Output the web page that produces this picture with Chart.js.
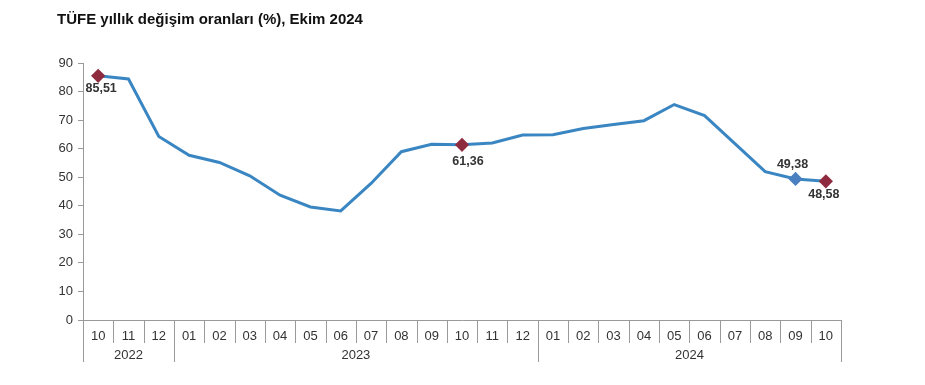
<!DOCTYPE html>
<html>
<head>
<meta charset="utf-8">
<script src="https://cdn.jsdelivr.net/npm/chart.js@4/dist/chart.umd.min.js"></script>
<style>
  html, body { margin: 0; padding: 0; background: #fff; }
  #wrap { position: relative; width: 925px; height: 385px; }
  #title { position: absolute; left: 57px; top: 10px; font: bold 15px "Liberation Sans", Arial, sans-serif; color: #111; }
</style>
</head>
<body>
<div id="wrap">
  <div id="title">TÜFE yıllık değişim oranları (%), Ekim 2024</div>
  <canvas id="c" width="925" height="385"></canvas>
</div>
<script>
// months shown on the x axis, Oct 2022 - Oct 2024
const months = ['10', '11', '12', '01', '02', '03', '04', '05', '06', '07', '08', '09',
                '10', '11', '12', '01', '02', '03', '04', '05', '06', '07', '08', '09', '10'];
const years = [
   { label: '2022', from: 0, to: 2 },
   { label: '2023', from: 3, to: 14 },
   { label: '2024', from: 15, to: 24 }
];
const cpi = [85.51, 84.39, 64.27, 57.68, 55.18, 50.51, 43.68, 39.59, 38.21, 47.83, 58.94, 61.53,
             61.36, 61.98, 64.77, 64.86, 67.07, 68.50, 69.80, 75.45, 71.60, 61.78, 51.97, 49.38, 48.58];
const yTicks = [0, 10, 20, 30, 40, 50, 60, 70, 80, 90];
// labelled points: index, label offset
const marked = [
   { i: 0, dx: 3, dy: 13, color: '#8e2b3f' },
   { i: 12, dx: 6, dy: 17, color: '#8e2b3f' },
   { i: 23, dx: -3, dy: -14, color: '#4a80c0' },
   { i: 24, dx: -2, dy: 13, color: '#8e2b3f' }
];

const font = "'Liberation Sans', Arial, sans-serif";

function fmt(v) {
   return v.toFixed(2).replace('.', ',');
}

const radii = cpi.map(function (v, i) {
   return marked.some(function (m) { return m.i === i; }) ? 5 : 0;
});
const pointColors = cpi.map(function (v, i) {
   const m = marked.find(function (m) { return m.i === i; });
   return m ? m.color : '#3a86c2';
});

const axisExtras = {
   id: 'axisExtras',
   afterDraw: function (chart) {
      const ctx = chart.ctx;
      const x = chart.scales.x;
      const area = chart.chartArea;
      const step = x.getPixelForValue(1) - x.getPixelForValue(0);
      ctx.save();
      ctx.strokeStyle = '#9a9a9a';
      ctx.lineWidth = 1;
      // month separators
      for (let i = 0; i <= months.length; i++) {
         const px = Math.round(x.getPixelForValue(i) - step / 2) + 0.5;
         const isYear = i === 0 || i === months.length || years.some(function (y) { return y.from === i; });
         ctx.beginPath();
         ctx.moveTo(px, area.bottom);
         ctx.lineTo(px, area.bottom + (isYear ? 42 : 23));
         ctx.stroke();
      }
      // year labels
      ctx.fillStyle = '#333';
      ctx.font = '13px ' + font;
      ctx.textAlign = 'center';
      ctx.textBaseline = 'middle';
      years.forEach(function (y) {
         const cx = (x.getPixelForValue(y.from) + x.getPixelForValue(y.to)) / 2;
         ctx.fillText(y.label, cx, area.bottom + 35);
      });
      // data labels
      ctx.font = 'bold 12.5px ' + font;
      const meta = chart.getDatasetMeta(0);
      marked.forEach(function (m) {
         const p = meta.data[m.i];
         ctx.fillText(fmt(cpi[m.i]), p.x + m.dx, p.y + m.dy);
      });
      ctx.restore();
   }
};

new Chart(document.getElementById('c'), {
   type: 'line',
   data: {
      labels: months,
      datasets: [{
         data: cpi,
         borderColor: '#3a86c2',
         borderWidth: 3,
         pointStyle: 'rectRot',
         pointRadius: radii,
         pointBackgroundColor: pointColors,
         pointBorderColor: pointColors,
         tension: 0
      }]
   },
   options: {
      responsive: false,
      animation: false,
      layout: { padding: { left: 50, right: 84, top: 63, bottom: 0 } },
      plugins: { legend: { display: false }, tooltip: { enabled: false } },
      scales: {
         x: {
            offset: true,
            grid: { display: false },
            border: { display: true, color: '#9a9a9a' },
            ticks: { color: '#333', font: { family: font, size: 13 }, padding: 1, maxRotation: 0, autoSkip: false },
            afterFit: function (s) { s.height = 65; }
         },
         y: {
            min: 0,
            max: 90,
            afterBuildTicks: function (s) { s.ticks = yTicks.map(function (v) { return { value: v }; }); },
            grid: { drawOnChartArea: false, drawTicks: true, tickLength: 5, color: '#9a9a9a' },
            border: { display: true, color: '#9a9a9a' },
            ticks: { color: '#333', font: { family: font, size: 13 }, padding: 5 },
            afterFit: function (s) { s.width = 33; }
         }
      }
   },
   plugins: [axisExtras]
});
</script>
</body>
</html>
